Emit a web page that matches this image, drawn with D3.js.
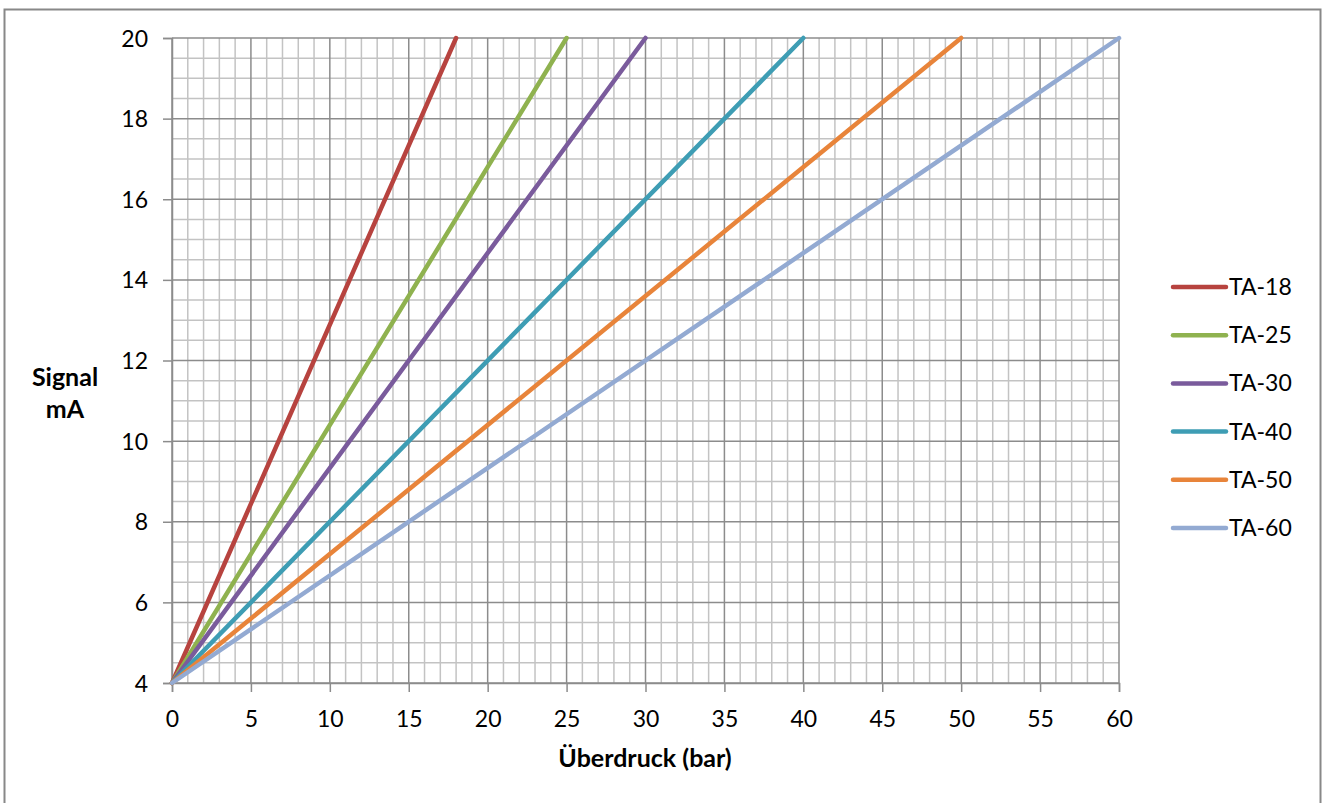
<!DOCTYPE html>
<html><head><meta charset="utf-8">
<script src="https://cdn.jsdelivr.net/npm/d3@7"></script>
<style>body{margin:0;background:#fff}svg{display:block}text{font-family:Lato,"Open Sans",sans-serif}</style>
</head><body><svg id="c" width="1322" height="803"></svg>
<script>
const seriesNames = ["TA-18","TA-25","TA-30","TA-40","TA-50","TA-60"];
const seriesColors = ["#B7433F","#8FB24F","#7A5B9C","#3E9DB4","#E8843A","#93AAD2"];
const pressureStart = [0,0,0,0,0,0];
const pressureEnd = [18,25,30,40,50,60];
const signalStart = [4,4,4,4,4,4];
const signalEnd = [20,20,20,20,20,20];
const xTicks = [0,5,10,15,20,25,30,35,40,45,50,55,60];
const yTicks = [4,6,8,10,12,14,16,18,20];

const svg = d3.select("#c");
svg.append("rect").attr("x",4.5).attr("y",9.5).attr("width",1316).attr("height",800)
  .attr("fill","#fff").attr("stroke","#888").attr("stroke-width",2);

const x = d3.scaleLinear().domain([0,60]).range([172,1119]);
const y = d3.scaleLinear().domain([4,20]).range([683,38]);

const g = svg.append("g");
const minorX = d3.range(0,61,1).filter(v=>v%5!==0);
const minorY = d3.range(4,20.01,0.5).filter(v=>Math.abs(v/2-Math.round(v/2))>1e-6);
g.selectAll(".mx").data(minorX).join("line").attr("x1",d=>x(d)).attr("x2",d=>x(d))
  .attr("y1",y(4)).attr("y2",y(20)).attr("stroke","#c3c3c3").attr("stroke-width",1.5);
g.selectAll(".my").data(minorY).join("line").attr("y1",d=>y(d)).attr("y2",d=>y(d))
  .attr("x1",x(0)).attr("x2",x(60)).attr("stroke","#c3c3c3").attr("stroke-width",1.5);
g.selectAll(".Mx").data(xTicks).join("line").attr("x1",d=>x(d)).attr("x2",d=>x(d))
  .attr("y1",y(4)).attr("y2",y(20)).attr("stroke","#8c8c8c").attr("stroke-width",1.5);
g.selectAll(".My").data(yTicks).join("line").attr("y1",d=>y(d)).attr("y2",d=>y(d))
  .attr("x1",x(0)).attr("x2",x(60)).attr("stroke","#8c8c8c").attr("stroke-width",1.5);

const xAxis = d3.axisBottom(x).tickValues(xTicks).tickSize(9).tickPadding(19);
const yAxis = d3.axisLeft(y).tickValues(yTicks).tickSize(9).tickPadding(15);
const gx = svg.append("g").attr("transform",`translate(0,${y(4)})`).call(xAxis);
const gy = svg.append("g").attr("transform",`translate(${x(0)},0)`).call(yAxis);
[gx,gy].forEach(a=>{
  a.select(".domain").attr("stroke","#8c8c8c").attr("stroke-width",1.5);
  a.selectAll(".tick line").attr("stroke","#8c8c8c").attr("stroke-width",1.5);
  a.selectAll("text").attr("font-size",23).attr("fill","#000").style("font-family","Lato,'Open Sans',sans-serif");
});
gy.selectAll("text").attr("dy","0.35em");

const line = d3.line().x(d=>x(d[0])).y(d=>y(d[1]));
seriesNames.forEach((n,i)=>{
  svg.append("path").datum([[pressureStart[i],signalStart[i]],[pressureEnd[i],signalEnd[i]]])
    .attr("d",line).attr("fill","none").attr("stroke",seriesColors[i])
    .attr("stroke-width",4.5).attr("stroke-linecap","round");
});

svg.append("text").attr("x",645).attr("y",767).attr("text-anchor","middle")
  .attr("font-size",25).attr("font-weight","bold").text("Überdruck (bar)");
svg.append("text").attr("x",65).attr("y",386).attr("text-anchor","middle")
  .attr("font-size",25).attr("font-weight","bold").text("Signal");
svg.append("text").attr("x",65).attr("y",418).attr("text-anchor","middle")
  .attr("font-size",25).attr("font-weight","bold").text("mA");

const leg = svg.append("g");
seriesNames.forEach((n,i)=>{
  const ly = 287 + i*48.2;
  leg.append("line").attr("x1",1173).attr("x2",1226).attr("y1",ly).attr("y2",ly)
    .attr("stroke",seriesColors[i]).attr("stroke-width",4.5).attr("stroke-linecap","round");
  leg.append("text").attr("x",1229).attr("y",ly).attr("dy","0.35em").attr("font-size",23).text(n);
});
</script></body></html>
